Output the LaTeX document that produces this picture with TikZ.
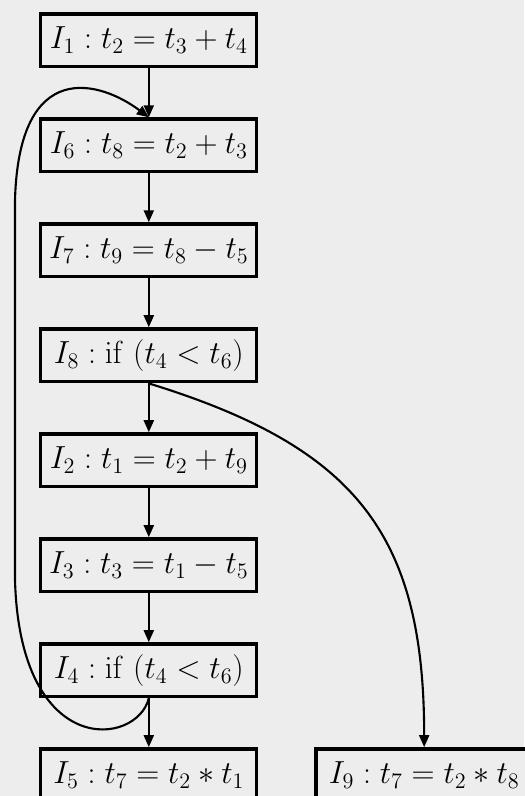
\documentclass[tikz,border=0pt]{standalone}
\usepackage{amsmath,amssymb}
\usepackage{xcolor}
\usepackage{graphicx}
\usepackage{tikz}
\usetikzlibrary{arrows.meta, positioning}

\newcommand{\instrtext}[1]{\scalebox{1.095}{$#1$}}

\begin{document}
\begin{tikzpicture}[
        node distance=1.22cm and 1.4cm,
        instr/.style={rectangle, draw=black, line width=2.4pt, fill=black!7, minimum width=5.4cm, minimum height=1.32cm, inner sep=0pt, font=\fontsize{20.74}{25}\selectfont},
        arrow/.style={-{Triangle[length=3mm, width=2.5mm]}, line width=1.5pt, color=black}
    ]

    % Page
    \fill[black!7] (0,0) rectangle (13.1,-19.9);
    \useasboundingbox (0,0) rectangle (13.1,-19.9);

    % Instruction chain
    \node[instr] (i1) at (3.72,-1.01) {\instrtext{I_1 : t_2 = t_3 + t_4}};
    \node[instr, below=of i1] (i6) {\instrtext{I_6 : t_8 = t_2 + t_3}};
    \node[instr, below=of i6] (i7) {\instrtext{I_7 : t_9 = t_8 - t_5}};
    \node[instr, below=of i7] (i8) {\instrtext{I_8 : \mathrm{if}\ (t_4 < t_6)}};
    \node[instr, below=of i8] (i2) {\instrtext{I_2 : t_1 = t_2 + t_9}};
    \node[instr, below=of i2] (i3) {\instrtext{I_3 : t_3 = t_1 - t_5}};
    \node[instr, below=of i3] (i4) {\instrtext{I_4 : \mathrm{if}\ (t_4 < t_6)}};
    \node[instr, below=of i4] (i5) {\instrtext{I_5 : t_7 = t_2 * t_1}};
    \node[instr, right=of i5] (i9) {\instrtext{I_9 : t_7 = t_2 * t_8}};

    % Loop points
    \coordinate (lpbot) at (0.375,-14.5);
    \coordinate (lptop) at (0.375,-5);

    % Straight flow
    \draw[arrow] (i1) -- (i6);
    \draw[arrow] (i6) -- (i7);
    \draw[arrow] (i7) -- (i8);
    \draw[arrow] (i8) -- (i2);
    \draw[arrow] (i2) -- (i3);
    \draw[arrow] (i3) -- (i4);
    \draw[arrow] (i4) -- (i5);

    % Back edge and branch
    \draw[arrow] (i4.south) .. controls +(-0.3,-1.2) and +(0.125,-4.5) .. (lpbot) -- (lptop)
        .. controls +(0.1,3.6) and +(-1.2,0.9) .. (i6.north);
    \draw[arrow] (i8.south) .. controls +(5.2,-1.6) and +(0,5.3) .. (i9.north);

\end{tikzpicture}
\end{document}
